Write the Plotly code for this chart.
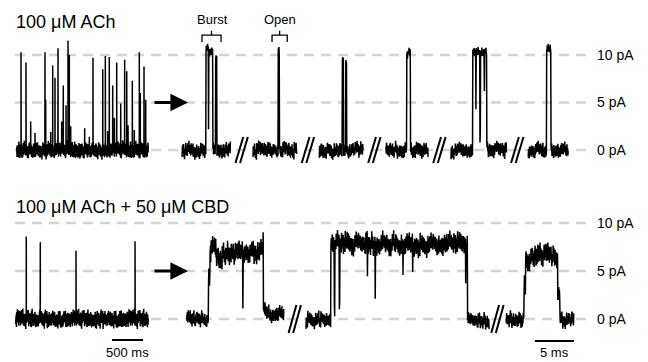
import numpy as np
import plotly.graph_objects as go

# ---------------- data ----------------
# hand-typed background noise samples (fraction of noise amplitude)
NOISE = [0.31, -0.62, 0.85, -0.14, 0.47, -0.93, 0.12, 0.68, -0.41, -0.05, 0.77, -0.58,
         0.22, -0.86, 0.54, 0.03, -0.35, 0.91, -0.72, 0.18, 0.44, -0.27, -0.81, 0.63,
         -0.09, 0.36, -0.52, 0.97, -0.33, 0.08, -0.66, 0.49, 0.25, -0.88, 0.71, -0.19,
         0.57, -0.45, 0.14, -0.74, 0.83, -0.02, -0.61, 0.39, -0.24, 0.66, -0.97, 0.29,
         0.52, -0.38, 0.05, -0.79, 0.92, -0.16, 0.41, -0.55, 0.21, -0.69, 0.74, -0.11,
         0.35, -0.84, 0.58, 0.09, -0.47, 0.81, -0.29, -0.64, 0.46, -0.07, 0.69, -0.53,
         0.17, -0.91, 0.62, 0.27, -0.36, 0.87, -0.76, 0.11, 0.51, -0.22, -0.85, 0.59,
         -0.12, 0.33, -0.49, 0.95, -0.31, 0.06, -0.71, 0.42, 0.19, -0.83, 0.73, -0.26,
         0.55, -0.43, 0.15, -0.68, 0.79, -0.04, -0.57, 0.37, -0.18, 0.64, -0.89, 0.24,
         0.48, -0.34, 0.02, -0.75, 0.88, -0.21, 0.45, -0.59, 0.28, -0.65, 0.70, -0.10]

# Compressed (overview) recordings: time span (ms), spike times (ms), spike peaks (pA)
ACH_SPAN_MS = [27, 2150]
ACH_SPIKE_MS = [97, 177, 253, 323, 484, 495, 576, 608, 645, 694, 753, 779, 823, 855,
                876, 898, 1124, 1199, 1258, 1415, 1457, 1495, 1521, 1576, 1602, 1640,
                1705, 1769, 1802, 1823, 1892, 1924, 2005, 2021, 2081, 2108]
ACH_SPIKE_PA = [10.3, 9.2, 3.0, 1.8, 10.3, 5.3, 1.9, 8.9, 7.6, 10.7, 3.0, 6.8, 4.7, 11.5,
                10.0, 2.5, 2.3, 1.4, 9.7, 8.5, 9.9, 2.0, 9.8, 6.8, 3.4, 9.2,
                4.9, 9.5, 8.3, 2.6, 7.3, 2.1, 10.3, 6.0, 8.8, 5.3]

CBD_SPAN_MS = [11, 2150]
CBD_SPIKE_MS = [182, 408, 984, 1936]
CBD_SPIKE_PA = [8.6, 8.0, 7.1, 8.1]

# Expanded segments (ms on the expanded time base) and events (start ms, end ms, level pA)
ACH_SEG_START = [0.26, 9.36, 17.86, 26.40, 34.74, 44.65]
ACH_SEG_END = [6.50, 15.00, 23.50, 31.83, 41.88, 49.78]
ACH_EVENTS = [
    [(3.30, 3.62, 10.9), (3.62, 3.68, 2.6), (3.68, 4.20, 10.3), (4.57, 4.72, 9.8)],
    [(12.56, 12.72, 10.6)],
    [(20.80, 20.94, 9.6), (21.24, 21.37, 9.3)],
    [(29.06, 29.55, 10.3)],
    [(37.53, 39.32, 10.2), (37.90, 37.96, 4.6), (38.44, 38.50, 1.6), (38.98, 39.04, 6.0)],
    [(47.00, 47.56, 10.6)],
]

CBD_SEG_START = [0.86, 16.15, 41.80]
CBD_SEG_END = [13.33, 39.65, 50.50]
CBD_EVENTS = [
    [(3.63, 3.85, 4.5), (3.85, 4.60, 7.3), (4.60, 6.00, 6.5), (6.00, 8.04, 7.0),
     (8.04, 8.10, 1.3), (8.10, 10.60, 7.1), (10.60, 10.68, 7.9), (10.68, 11.40, 0.9),
     (11.40, 13.33, 0.45)],
    [(19.32, 36.83, 7.8), (19.78, 19.84, 0.9), (20.42, 20.48, 1.4), (24.00, 24.06, 4.2),
     (25.00, 25.06, 2.7), (28.55, 28.60, 5.3), (29.80, 29.85, 5.6), (36.60, 36.66, 5.0),
     (36.83, 39.65, -0.2)],
    [(44.10, 44.30, 3.5), (44.30, 45.50, 6.2), (45.50, 47.60, 6.8), (47.60, 48.40, 6.6),
     (48.40, 48.70, 2.5)],
]

LEVEL_PA = [0, 5, 10]
LEVEL_LABELS = ["0 pA", "5 pA", "10 pA"]
TITLES = ["100 \u03bcM ACh", "100 \u03bcM ACh + 50 \u03bcM CBD"]
SCALE_SLOW_MS = 500
SCALE_FAST_MS = 5

# ---------------- geometry ----------------
W, H = 648, 362
FONT = "Liberation Sans, Arial, Helvetica, sans-serif"
N = len(NOISE)


def ydomain(px_zero, px_per_pa, lo, hi):
    return [1 - (px_zero - lo * px_per_pa) / H, 1 - (px_zero - hi * px_per_pa) / H]


TOP_RANGE = [-3.0, 14.5]
BOT_RANGE = [-4.4, 12.6]
TOP_DOM = ydomain(150, 9.5, *TOP_RANGE)
BOT_DOM = ydomain(319, 9.6, *BOT_RANGE)
SLOW_RANGE = [0, 2200]
SLOW_DOM = [15 / W, (15 + 2200 * 31 / 500) / W]
FAST_PX_PER_MS = 7.8
FAST_RANGE = [0, 400 / FAST_PX_PER_MS]
FAST_DOM = [180 / W, 580 / W]


def noise_at(i, off):
    fast = NOISE[(i + off) % N]
    slow = NOISE[((i // 6) * 7 + off * 3) % N]
    return 0.8 * fast + 0.35 * slow


def overview(span, spike_t, spike_a, amp, off, dt=2.5):
    t = list(np.arange(span[0], span[1], dt))
    v = [amp * noise_at(i, off) for i in range(len(t))]
    pts = list(zip(t, v)) + list(zip(spike_t, spike_a))
    pts.sort(key=lambda p: p[0])
    return [p[0] for p in pts], [p[1] for p in pts]


def expanded(starts, ends, events, base_amp, open_amp, off0, dt=0.04):
    xs, ys = [], []
    for k, (s, e) in enumerate(zip(starts, ends)):
        t = np.arange(s, e, dt)
        for i, ti in enumerate(t):
            lvl = 0.0
            for (a, b, L) in events[k]:
                if a <= ti < b:
                    lvl = L
            amp = open_amp if lvl > 2.5 else base_amp
            xs.append(float(ti))
            ys.append(lvl + amp * noise_at(i, 17 * k + off0))
        xs.append(None)
        ys.append(None)
    return xs, ys


fig = go.Figure()
line = dict(color="black", width=1.5, simplify=False)

x, y = overview(ACH_SPAN_MS, ACH_SPIKE_MS, ACH_SPIKE_PA, 0.95, 3)
fig.add_trace(go.Scatter(x=x, y=y, xaxis="x", yaxis="y", mode="lines",
                         line=dict(color="black", width=1.5, simplify=False),
                         hoverinfo="skip"))
x, y = overview(CBD_SPAN_MS, CBD_SPIKE_MS, CBD_SPIKE_PA, 1.0, 41)
fig.add_trace(go.Scatter(x=x, y=y, xaxis="x", yaxis="y2", mode="lines",
                         line=dict(color="black", width=1.5, simplify=False),
                         hoverinfo="skip"))
x, y = expanded(ACH_SEG_START, ACH_SEG_END, ACH_EVENTS, 1.0, 0.65, 5)
fig.add_trace(go.Scatter(x=x, y=y, xaxis="x2", yaxis="y", mode="lines",
                         line=line, hoverinfo="skip", connectgaps=False))
x, y = expanded(CBD_SEG_START, CBD_SEG_END, CBD_EVENTS, 1.0, 1.4, 29)
fig.add_trace(go.Scatter(x=x, y=y, xaxis="x2", yaxis="y2", mode="lines",
                         line=line, hoverinfo="skip", connectgaps=False))

shapes = []
annotations = []
# dashed reference levels + labels
for yref in ["y", "y2"]:
    for lv, lab in zip(LEVEL_PA, LEVEL_LABELS):
        shapes.append(dict(type="line", xref="paper", x0=15 / W, x1=586 / W, yref=yref,
                           y0=lv, y1=lv, layer="below",
                           line=dict(color="#d4d4d4", width=2.5, dash="10px,7px")))
        annotations.append(dict(xref="paper", x=595 / W, xanchor="left", yref=yref, y=lv,
                                yanchor="middle", text=lab, showarrow=False,
                                font=dict(family=FONT, size=14, color="black")))

# break marks between expanded segments
for starts, ends, yref, half in [(ACH_SEG_START, ACH_SEG_END, "y", 1.37),
                                 (CBD_SEG_START, CBD_SEG_END, "y2", 1.46)]:
    for e, s in zip(ends[:-1], starts[1:]):
        c = (e + s) / 2
        for off in (-4.0, 0.6):
            x0 = c + (off - 2.4) / FAST_PX_PER_MS
            x1 = c + (off + 5.4) / FAST_PX_PER_MS
            shapes.append(dict(type="line", xref="x2", yref=yref, x0=x0, x1=x1,
                               y0=-half, y1=half, line=dict(color="black", width=2)))

# arrows
for yref in ["y", "y2"]:
    annotations.append(dict(xref="paper", x=188 / W, yref=yref, y=5, ax=-35, ay=0,
                            showarrow=True, arrowhead=2, arrowsize=1.1, arrowwidth=3.2,
                            arrowcolor="black", text="", standoff=0))

# titles
annotations.append(dict(xref="paper", x=14 / W, xanchor="left", yref="paper",
                        y=1 - 22 / H, yanchor="middle", text=TITLES[0], showarrow=False,
                        font=dict(family=FONT, size=18, color="black")))
annotations.append(dict(xref="paper", x=14 / W, xanchor="left", yref="paper",
                        y=1 - 207 / H, yanchor="middle", text=TITLES[1], showarrow=False,
                        font=dict(family=FONT, size=18, color="black")))

# Burst / Open brackets
for lab, a, b in [("Burst", 2.82, 5.26), ("Open", 11.8, 13.75)]:
    c = (a + b) / 2
    shapes.append(dict(type="path", xref="x2", yref="y",
                       path=f"M {a},11.37 L {a},12.1 L {b},12.1 L {b},11.37",
                       line=dict(color="black", width=1.3)))
    shapes.append(dict(type="line", xref="x2", yref="y", x0=c, x1=c, y0=12.1, y1=12.55,
                       line=dict(color="black", width=1.3)))
    annotations.append(dict(xref="x2", x=c + 0.1, yref="y", y=13.7, text=lab,
                            showarrow=False, yanchor="middle",
                            font=dict(family=FONT, size=13, color="black")))

# scale bars
shapes.append(dict(type="line", xref="x", yref="y2", x0=1565, x1=1565 + SCALE_SLOW_MS,
                   y0=-2.19, y1=-2.19, line=dict(color="black", width=2)))
annotations.append(dict(xref="x", x=1565 + SCALE_SLOW_MS / 2, yref="y2", y=-3.45,
                        text=f"{SCALE_SLOW_MS} ms", showarrow=False, yanchor="middle",
                        font=dict(family=FONT, size=13, color="black")))
shapes.append(dict(type="line", xref="x2", yref="y2", x0=45.5, x1=45.5 + SCALE_FAST_MS,
                   y0=-2.29, y1=-2.29, line=dict(color="black", width=2)))
annotations.append(dict(xref="x2", x=45.5 + SCALE_FAST_MS / 2, yref="y2", y=-3.5,
                        text=f"{SCALE_FAST_MS} ms", showarrow=False, yanchor="middle",
                        font=dict(family=FONT, size=13, color="black")))

ax_common = dict(visible=False, showgrid=False, zeroline=False, fixedrange=True)
fig.update_layout(
    width=W, height=H, margin=dict(l=0, r=0, t=0, b=0),
    paper_bgcolor="white", plot_bgcolor="white", showlegend=False,
    xaxis=dict(domain=SLOW_DOM, range=SLOW_RANGE, anchor="y", **ax_common),
    xaxis2=dict(domain=FAST_DOM, range=FAST_RANGE, anchor="y", **ax_common),
    yaxis=dict(domain=TOP_DOM, range=TOP_RANGE, anchor="x", **ax_common),
    yaxis2=dict(domain=BOT_DOM, range=BOT_RANGE, anchor="x", **ax_common),
    shapes=shapes, annotations=annotations,
)
fig.write_html("out.html", config={"displayModeBar": False},
               post_script="document.body.style.margin='0px';"
                           "document.body.style.overflow='hidden';")
